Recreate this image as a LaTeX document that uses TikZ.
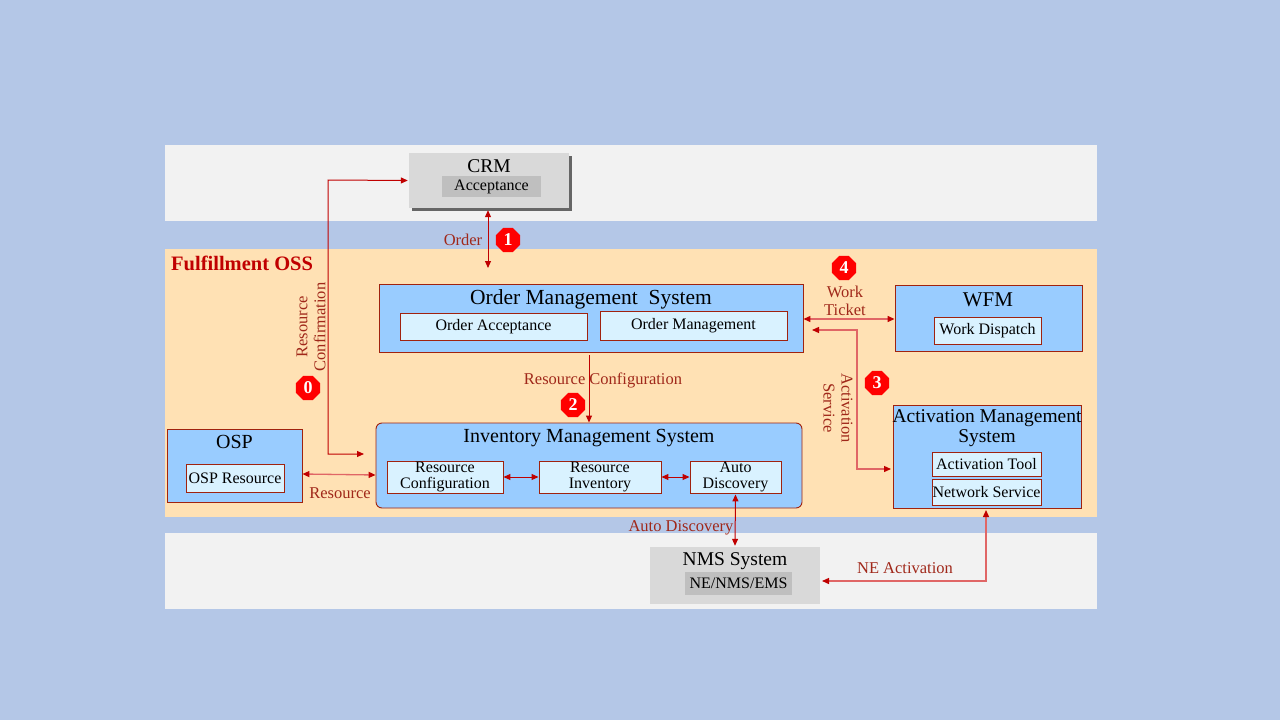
\documentclass[tikz,border=0pt]{standalone}
\usepackage{fontspec}
\setmainfont{Liberation Serif}
\usetikzlibrary{arrows.meta,shapes.geometric,shadows}
\definecolor{bg}{HTML}{B4C7E7}
\definecolor{band}{HTML}{F2F2F2}
\definecolor{orng}{HTML}{FFE1B4}
\definecolor{boxblue}{HTML}{99CCFF}
\definecolor{inblue}{HTML}{D9F2FF}
\definecolor{bord}{HTML}{A0220E}
\definecolor{arrred}{HTML}{C00000}
\definecolor{lightred}{HTML}{E06666}
\definecolor{lbl}{HTML}{A0281A}
\definecolor{gray1}{HTML}{D9D9D9}
\definecolor{gray2}{HTML}{BFBFBF}
\definecolor{badgered}{HTML}{FF0000}
\newcommand\fsz[2]{\fontsize{#1}{#2}\selectfont}
\begin{document}
\begin{tikzpicture}[x=1pt,y=-1pt,
  bigbox/.style={draw=bord, fill=boxblue, line width=0.9pt, inner sep=0pt},
  inbox/.style={draw=bord, fill=inblue, line width=0.9pt, inner sep=0pt, align=center, font=\fsz{16}{16}},
  graybox/.style={fill=gray1, inner sep=0pt},
  grayin/.style={fill=gray2, inner sep=0pt, font=\fsz{16}{16}},
  title/.style={font=\fsz{20}{20}, align=center, inner sep=0pt},
  lab/.style={text=lbl, font=\fsz{16.5}{18}, align=center, inner sep=0pt},
  badge/.style={regular polygon, regular polygon sides=8, fill=badgered, minimum size=26pt, inner sep=0pt, text=white, font=\bfseries\fsz{18}{18}},
  tipr/.tip={Triangle[length=7pt,width=6pt,color=arrred]},
  dbl/.style={tipr-tipr, draw=arrred, line width=1pt},
  dbll/.style={tipr-tipr, draw=lightred, line width=1.3pt},
  one/.style={-tipr, draw=arrred, line width=1pt}
]
\useasboundingbox (0,0) rectangle (1280,720);
\fill[bg] (0,0) rectangle (1280,720);
% bands
\fill[band] (165,145) rectangle (1097,221);
\fill[orng] (165,249) rectangle (1097,517);
\fill[band] (165,533) rectangle (1097,609);

% CRM
\node[graybox, minimum width=160pt, minimum height=55pt,
  drop shadow={shadow xshift=3pt, shadow yshift=-3pt, fill=black!60, opacity=1}] (crm) at (489,180.5) {};
\node[title, font=\fsz{19.5}{20}] (crmT) at (489,166) {CRM};
\node[grayin, minimum width=99pt, minimum height=21pt] (crmA) at (491.5,186.5) {Acceptance};

% Fulfillment OSS
\node[anchor=west, inner sep=0pt, text=arrred, font=\bfseries\fsz{20.5}{20}] (ful) at (171,263) {Fulfillment OSS};

% OMS
\node[bigbox, minimum width=424pt, minimum height=68pt] (oms) at (591,318) {};
\node[title, font=\fsz{21.5}{22}] (omsT) at (591,299) {Order Management\ \ System};
\node[inbox, minimum width=187pt, minimum height=27pt] (oa) at (493.5,326.5) {Order Acceptance};
\node[inbox, minimum width=187pt, minimum height=29pt] (om) at (693.5,325.5) {Order Management};

% IMS
\node[bigbox, rounded corners=6pt, minimum width=426pt, minimum height=85pt] (ims) at (589,465.5) {};
\node[title, font=\fsz{20}{20}] (imsT) at (589,438) {Inventory Management System};
\node[inbox, minimum width=116pt, minimum height=32pt] (rc) at (445,477) {Resource\\Configuration};
\node[inbox, minimum width=122pt, minimum height=32pt] (ri) at (600,477) {Resource\\Inventory};
\node[inbox, minimum width=91pt, minimum height=32pt] (ad) at (735.5,477) {Auto\\Discovery};

% OSP
\node[bigbox, minimum width=135pt, minimum height=73pt] (osp) at (234.5,465.5) {};
\node[title, font=\fsz{20}{20}] (ospT) at (234.5,442) {OSP};
\node[inbox, minimum width=98pt, minimum height=28pt] (ospR) at (235,478) {OSP Resource};

% WFM
\node[bigbox, minimum width=187pt, minimum height=66pt] (wfm) at (988.5,318) {};
\node[title, font=\fsz{21}{21}] (wfmT) at (988,300) {WFM};
\node[inbox, minimum width=107pt, minimum height=27pt] (wd) at (987.5,330.5) {Work Dispatch};

% AMS
\node[bigbox, minimum width=188pt, minimum height=103pt] (ams) at (987,456.5) {};
\node[title, font=\fsz{19.5}{20}] (amsT) at (987,428) {Activation Management\\System};
\node[inbox, minimum width=109pt, minimum height=24pt] (at) at (986.5,464) {Activation Tool};
\node[inbox, minimum width=109pt, minimum height=26pt] (ns) at (986.5,492) {Network Service};

% NMS
\node[graybox, minimum width=170pt, minimum height=57pt] (nms) at (735,575.5) {};
\node[title, font=\fsz{19.5}{20}] (nmsT) at (735,561) {NMS System};
\node[grayin, minimum width=107pt, minimum height=23pt] (ne) at (738.5,583.5) {NE/NMS/EMS};

% coordinates
\coordinate (ordEnd) at (488,268);
\coordinate (rcEnd) at (364,454);
\coordinate (rcfStart) at (589,355);
\coordinate (asStart) at (812,330);
\coordinate (asEnd) at (891,469);
\coordinate (neStart) at (986,510);
\coordinate (neEnd) at (822,581);

% connectors
\draw[dbl] ([xshift=-1pt,yshift=-2pt]crm.south) -- (ordEnd);
\draw[dbl] (rcEnd) -- (328,454) -- (328,180) -- ([xshift=-1pt]crm.west);
\draw[one] (rcfStart) -- (ims.north);
\draw[dbll] ([yshift=-8.5pt]osp.east) -- ([yshift=-9.5pt]ims.west);
\draw[dbl] (rc.east) -- (ri.west);
\draw[dbl] (ri.east) -- (ad.west);
\draw[dbll] ([yshift=-1pt]oms.east) -- ([yshift=-1pt]wfm.west);
\draw[dbll] (asStart) -- (857,330) -- (857,469) -- (asEnd);
\draw[dbl] ([yshift=-1pt]ad.south) -- ([yshift=1pt]nms.north);
\draw[dbll] (neStart) -- (986,581) -- (neEnd);

% labels
\node[lab] (lOrder) at (463,240) {Order};
\node[lab, rotate=90] (lRC) at (311,327) {Resource\\Confirmation};
\node[lab] (lRCf) at (603,380) {Resource Configuration};
\node[lab] (lRes) at (340,493) {Resource};
\node[lab] (lWT) at (845,301) {Work\\Ticket};
\node[lab, rotate=-90] (lAS) at (838,408) {Activation\\Service};
\node[lab] (lAD) at (681,528) {Auto Discovery};
\node[lab] (lNE) at (905,568) {NE Activation};

% badges
\node[badge] (b1) at (508,240) {1};
\node[badge] (b0) at (308,388) {0};
\node[badge] (b2) at (573,405) {2};
\node[badge] (b3) at (877,383) {3};
\node[badge] (b4) at (844,268) {4};
\end{tikzpicture}
\end{document}
